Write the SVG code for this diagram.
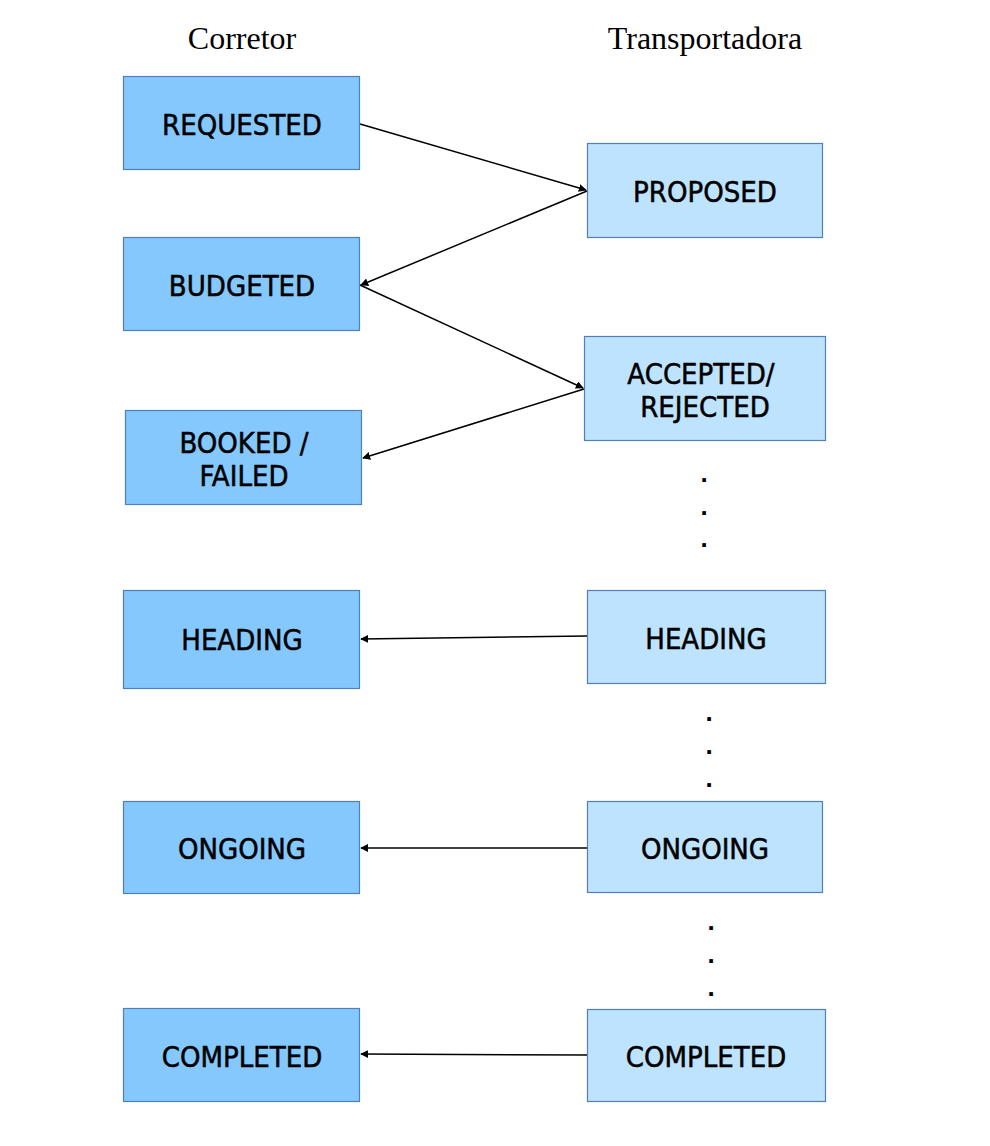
<svg xmlns="http://www.w3.org/2000/svg" width="990" height="1146" viewBox="0 0 990 1146">
<style>
.l{fill:#84C8FE;stroke:#4F7FBD;stroke-width:1.2}
.r{fill:#BEE3FE;stroke:#4F7FBD;stroke-width:1.2}
.t{font-family:"DejaVu Sans Condensed","DejaVu Sans",sans-serif;font-stretch:condensed;font-size:29px;fill:#000;stroke:#000;stroke-width:0.5;text-anchor:middle}
.h{font-family:"Liberation Serif","Times New Roman",serif;font-size:32px;fill:#000;text-anchor:middle}
.d{font-family:"Liberation Sans",Arial,sans-serif;font-size:26px;font-weight:bold;fill:#000;text-anchor:middle}
.c{stroke:#000;stroke-width:1.5;fill:none;marker-end:url(#a)}
</style>
<defs>
<marker id="a" viewBox="0 0 10 10" refX="9" refY="5" markerWidth="8" markerHeight="8" markerUnits="userSpaceOnUse" orient="auto">
<path d="M0,0 L10,5 L0,10 z" fill="#000"/>
</marker>
</defs>
<rect width="990" height="1146" fill="#fff"/>
<text class="h" x="242" y="49">Corretor</text>
<text class="h" x="705" y="49">Transportadora</text>

<g id="connectors">
<line class="c" x1="360" y1="124" x2="586" y2="190"/>
<line class="c" x1="587" y1="191" x2="361" y2="285"/>
<line class="c" x1="360" y1="285" x2="583" y2="388"/>
<line class="c" x1="584" y1="389" x2="363" y2="458"/>
<line class="c" x1="587" y1="636" x2="361" y2="639"/>
<line class="c" x1="587" y1="848" x2="361" y2="848"/>
<line class="c" x1="587" y1="1055" x2="361" y2="1054"/>
</g>

<g id="requested"><rect class="l" x="123.5" y="76.5" width="236" height="93"/><text class="t" x="242" y="135">REQUESTED</text></g>
<g id="budgeted"><rect class="l" x="123.5" y="237.5" width="236" height="93"/><text class="t" x="242" y="296">BUDGETED</text></g>
<g id="booked"><rect class="l" x="125.5" y="410.5" width="236" height="94"/><text class="t" x="244" y="453">BOOKED /</text><text class="t" x="244" y="486">FAILED</text></g>
<g id="heading-c"><rect class="l" x="123.5" y="590.5" width="236" height="98"/><text class="t" x="242" y="650">HEADING</text></g>
<g id="ongoing-c"><rect class="l" x="123.5" y="801.5" width="236" height="92"/><text class="t" x="242" y="859">ONGOING</text></g>
<g id="completed-c"><rect class="l" x="123.5" y="1008.5" width="236" height="93"/><text class="t" x="242" y="1067">COMPLETED</text></g>

<g id="proposed"><rect class="r" x="587.5" y="143.5" width="235" height="94"/><text class="t" x="705" y="202">PROPOSED</text></g>
<g id="accepted"><rect class="r" x="584.5" y="336.5" width="241" height="104"/><text class="t" x="701" y="384">ACCEPTED/</text><text class="t" x="705" y="417">REJECTED</text></g>
<g id="heading-t"><rect class="r" x="587.5" y="590.5" width="238" height="93"/><text class="t" x="706" y="649">HEADING</text></g>
<g id="ongoing-t"><rect class="r" x="587.5" y="801.5" width="235" height="91"/><text class="t" x="705" y="859">ONGOING</text></g>
<g id="completed-t"><rect class="r" x="587.5" y="1009.5" width="238" height="92"/><text class="t" x="706" y="1067">COMPLETED</text></g>

<g id="dots1"><text class="d" x="704" y="482">.</text><text class="d" x="704" y="515">.</text><text class="d" x="704" y="547">.</text></g>
<g id="dots2"><text class="d" x="709" y="721">.</text><text class="d" x="709" y="754">.</text><text class="d" x="709" y="787">.</text></g>
<g id="dots3"><text class="d" x="711" y="930">.</text><text class="d" x="711" y="963">.</text><text class="d" x="711" y="996">.</text></g>
</svg>
